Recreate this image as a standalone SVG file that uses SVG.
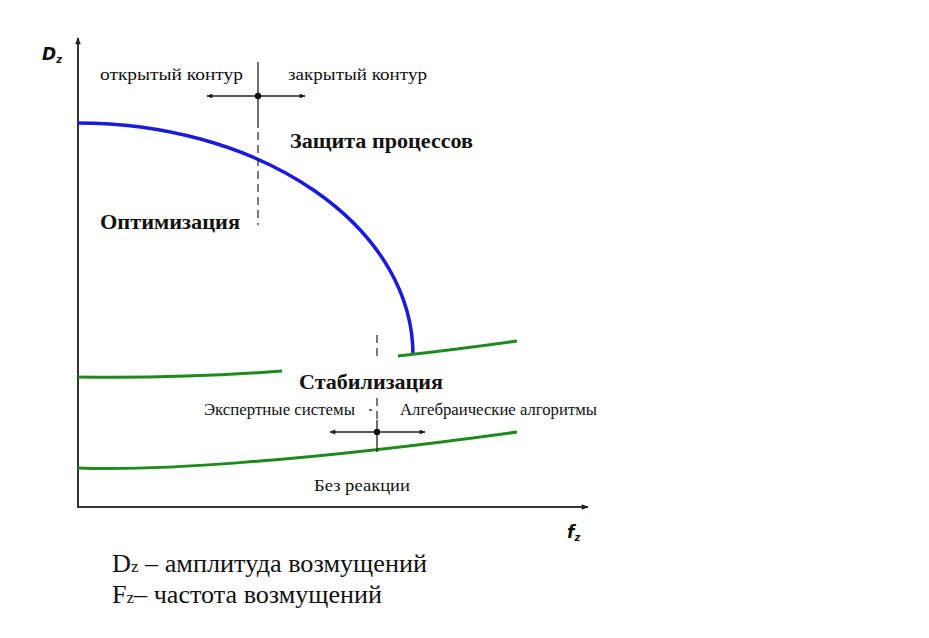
<svg xmlns="http://www.w3.org/2000/svg" width="929" height="638" viewBox="0 0 929 638">
<defs>
<marker id="ah" viewBox="0 0 10 10" refX="9" refY="5" markerWidth="12" markerHeight="7" markerUnits="userSpaceOnUse" orient="auto"><path d="M0,1 L10,5 L0,9 Z" fill="#222"/></marker>
<marker id="ahs" viewBox="0 0 10 10" refX="9" refY="5" markerWidth="11" markerHeight="6" markerUnits="userSpaceOnUse" orient="auto-start-reverse"><path d="M0,1 L10,5 L0,9 Z" fill="#222"/></marker>
</defs>
<style>
.ax{stroke:#333;stroke-width:2;fill:none}
.thin{stroke:#222;stroke-width:1.3;fill:none}
.dash{stroke:#222;stroke-width:1.2;fill:none;stroke-dasharray:8,5}
.blue{stroke:#1a1adc;stroke-width:3.5;fill:none}
.green{stroke:#1e8a1e;stroke-width:3;fill:none}
.t{font-family:"Liberation Serif","Times New Roman",serif;fill:#111}
.s{font-size:17px}
.b{font-size:22px;font-weight:bold}
.it{font-family:"DejaVu Sans","Liberation Sans",sans-serif;font-weight:bold;font-style:italic;fill:#111}
</style>
<rect width="929" height="638" fill="#fff"/>
<g id="axes">
<line class="ax" x1="78" y1="507" x2="78" y2="38" marker-end="url(#ah)"/>
<line class="ax" x1="77" y1="507" x2="588" y2="507" marker-end="url(#ah)"/>
<text class="it" x="42" y="60" font-size="17">D<tspan font-size="10" dy="3">z</tspan></text>
<text class="it" x="567" y="538" font-size="17">f<tspan font-size="10" dy="3">z</tspan></text>
</g>
<g id="connectors">
<path id="blue-curve" class="blue" d="M78,123 A335,232 0 0 1 413,355"/>
<path class="green" d="M398,356 Q460,349 517,341"/>
<path class="green" d="M78,377 C150,378 230,375 282,371"/>
<path class="green" d="M78,468 C150,471 300,462 517,432"/>
<line class="thin" x1="258" y1="62" x2="258" y2="128"/>
<line class="dash" x1="258" y1="132" x2="258" y2="225"/>
<line class="thin" x1="258" y1="96" x2="207" y2="96" marker-end="url(#ahs)"/>
<line class="thin" x1="258" y1="96" x2="305" y2="96" marker-end="url(#ahs)"/>
<circle cx="258" cy="96" r="3.2" fill="#111"/>
<line class="dash" x1="377" y1="335" x2="377" y2="356"/>
<line class="dash" x1="377" y1="398" x2="377" y2="420"/>
<line class="thin" x1="377" y1="420" x2="377" y2="452"/>
<line class="thin" x1="369" y1="410" x2="372" y2="410"/>
<line class="thin" x1="377" y1="432" x2="330" y2="432" marker-end="url(#ahs)"/>
<line class="thin" x1="377" y1="432" x2="425" y2="432" marker-end="url(#ahs)"/>
<circle cx="377" cy="432" r="3.2" fill="#111"/>
</g>
<g id="labels">
<text class="t s" x="100" y="80" textLength="143" lengthAdjust="spacingAndGlyphs">открытый контур</text>
<text class="t s" x="288" y="80" textLength="139" lengthAdjust="spacingAndGlyphs">закрытый контур</text>
<text class="t b" x="290" y="148" textLength="183" lengthAdjust="spacingAndGlyphs">Защита процессов</text>
<text class="t b" x="100" y="229" textLength="140" lengthAdjust="spacingAndGlyphs">Оптимизация</text>
<text class="t b" x="299" y="389" textLength="144" lengthAdjust="spacingAndGlyphs">Стабилизация</text>
<text class="t s" x="204" y="415" textLength="151" lengthAdjust="spacingAndGlyphs">Экспертные системы</text>
<text class="t s" x="400" y="415" textLength="197" lengthAdjust="spacingAndGlyphs">Алгебраические алгоритмы</text>
<text class="t s" x="314" y="491" textLength="96" lengthAdjust="spacingAndGlyphs">Без реакции</text>
</g>
<g id="legend" font-family="Liberation Serif, Times New Roman, serif" fill="#111">
<text x="112" y="572" font-size="26" textLength="315" lengthAdjust="spacingAndGlyphs">D<tspan font-size="17">z</tspan> – амплитуда возмущений</text>
<text x="112" y="603" font-size="26" textLength="270" lengthAdjust="spacingAndGlyphs">F<tspan font-size="17">z</tspan>– частота возмущений</text>
</g>
</svg>
